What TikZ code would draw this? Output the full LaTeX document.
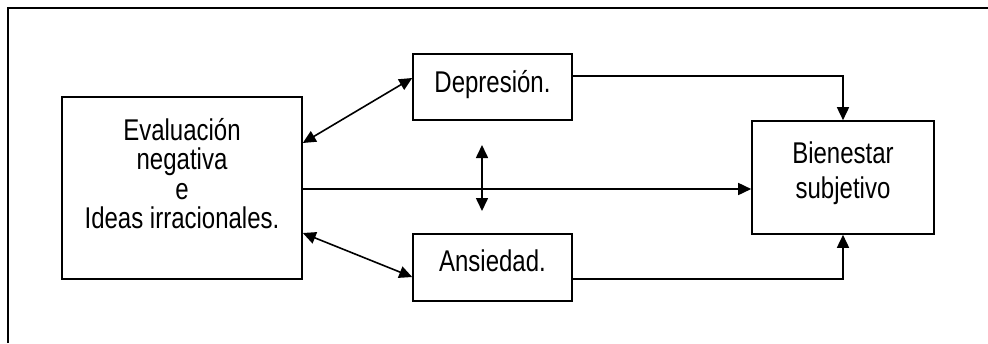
\documentclass[tikz,border=0pt]{standalone}
\usepackage{fontspec}
\setmainfont[FakeStretch=0.8]{Liberation Sans}
\usetikzlibrary{arrows.meta,calc}
\begin{document}
\begin{tikzpicture}[x=1pt,y=-1pt,
  box/.style={draw,line width=1.6pt,rectangle,inner sep=0pt},
  lbl/.style={inner sep=0pt,align=center,anchor=base,font=\fontsize{30}{29.5}\selectfont},
  conn/.style={line width=1.6pt},
  tip/.style={-{Triangle[length=13pt,width=12pt]}},
  tips/.style={{Triangle[length=13pt,width=12pt]}-{Triangle[length=13pt,width=12pt]}}]
\useasboundingbox (0,0) rectangle (988,343);
% outer frame (top and left)
\coordinate (fa) at (8,343);
\coordinate (fb) at (8,8);
\coordinate (fc) at (988,8);
\draw[line width=2.2pt] (fa) -- (fb) -- (fc);
% boxes
\node[box,minimum width=240pt,minimum height=182pt] (eval) at (182,188) {};
\node[box,minimum width=159pt,minimum height=66pt] (dep) at (492.5,87) {};
\node[box,minimum width=159pt,minimum height=67pt] (ans) at (492.5,267.5) {};
\node[box,minimum width=182pt,minimum height=113pt] (bien) at (843,177.5) {};
% texts (base anchor = baseline of last line)
\node[lbl] (tdep) at (492.5,92.5) {Depresión.};
\node[lbl] (tans) at (492.5,271.5) {Ansiedad.};
\node[lbl] (teval) at (182,228.5) {Evaluación\\negativa\\e\\Ideas irracionales.};
\node[lbl,font=\fontsize{30}{35}\selectfont] (tbien) at (843,198) {Bienestar\\subjetivo};
% connectors
\draw[conn,tips] ([yshift=45pt]eval.east) -- ([yshift=9pt]dep.west);
\draw[conn,tips] ([yshift=-45pt]eval.east) -- ([yshift=-9.5pt]ans.west);
\coordinate (vt) at (482,145);
\coordinate (vb) at (482,211);
\draw[conn,tips] (vt) -- (vb);
\draw[conn,tip] ([yshift=-1pt]eval.east) -- ([yshift=-1pt]eval.east -| bien.west);
\draw[conn,tip] ([yshift=11pt]dep.east) -| (bien.north);
\draw[conn,tip] ([yshift=-11.5pt]ans.east) -| (bien.south);
\end{tikzpicture}
\end{document}
